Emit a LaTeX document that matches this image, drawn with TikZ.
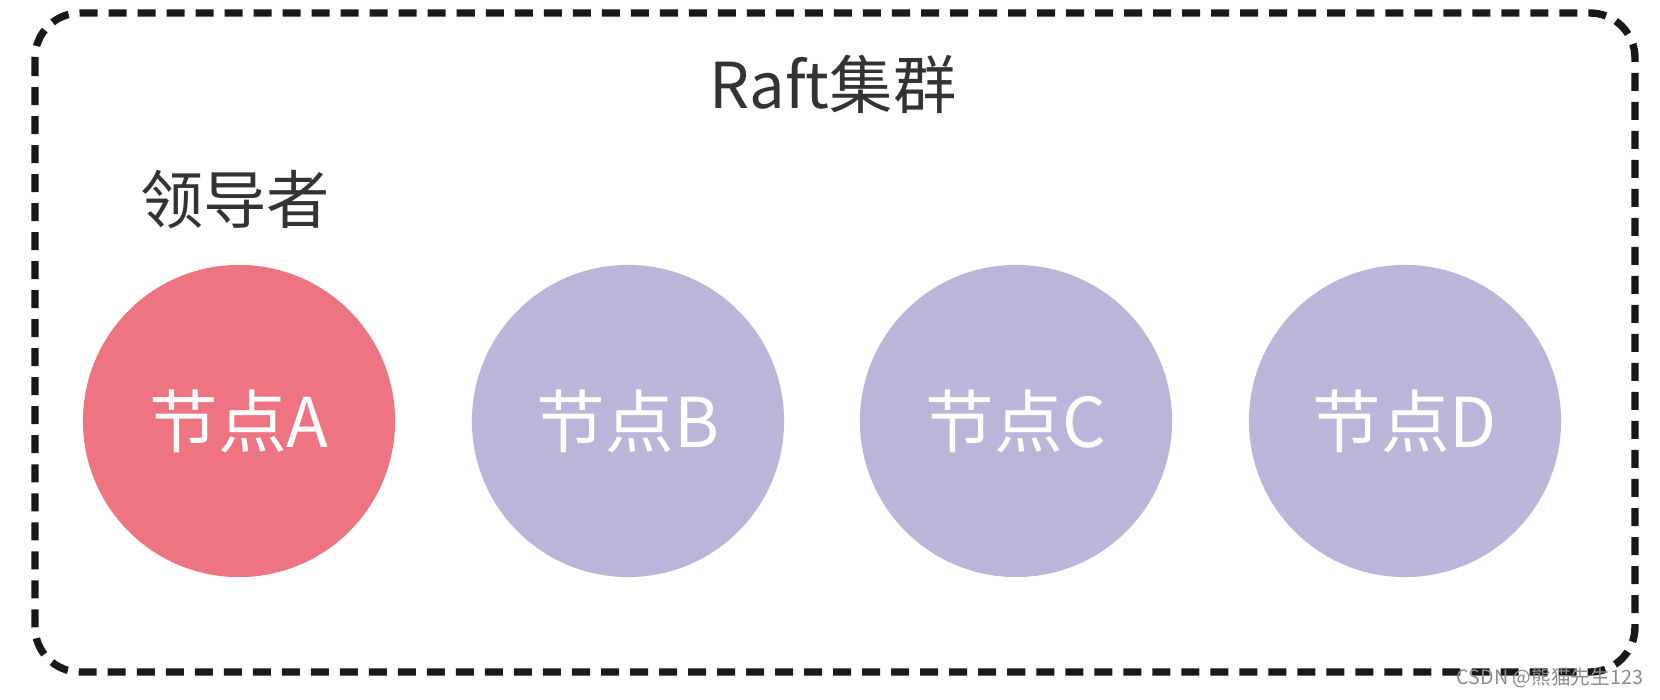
\documentclass[tikz,border=0pt]{standalone}
\usepackage{fontspec}
\usepackage{xcolor}
\usepackage{tikz}
\usetikzlibrary{shapes,backgrounds}
\newfontfamily\cjk{Noto Sans CJK SC}
\definecolor{leaderred}{HTML}{EE7482}
\definecolor{followerpurple}{HTML}{BDB4D9}
\definecolor{inkgray}{HTML}{333333}
\tikzstyle{cluster} = [rounded corners=0.45cm, line width=2.1pt, draw=black!90,
                       dash pattern=on 0.18cm off 0.11cm]
\tikzstyle{raftnode} = [circle, draw=none, inner sep=0pt, minimum size=3.12cm,
                        text=white, font=\cjk\fontsize{19.5}{19.5}\selectfont]
\tikzstyle{label1} = [text=inkgray, inner sep=0pt, font=\cjk\fontsize{18}{18}\selectfont]

\begin{document}
\begin{tikzpicture}[x=0.01cm, y=-0.01cm]
\useasboundingbox (0,0) rectangle (1660,700);
%Cluster border
\draw[cluster] (35,13) rectangle (1635,672);
\node[label1] (title) at (833,84) {Raft集群};

%Leader
\node[label1] (leader) at (235,200) {领导者};

% Nodes
\node[raftnode, fill=leaderred] (nodeA) at (239,421) {节点A};
\node[raftnode, fill=followerpurple] (nodeB) at (628,421) {节点B};
\node[raftnode, fill=followerpurple] (nodeC) at (1016,421) {节点C};
\node[raftnode, fill=followerpurple] (nodeD) at (1405,421) {节点D};

%Watermark
\node[text=black!45, inner sep=0pt, font=\cjk\fontsize{5.6}{6}\selectfont] (mark) at (1550,678) {CSDN @熊猫先生123};
\end{tikzpicture}
\end{document}
